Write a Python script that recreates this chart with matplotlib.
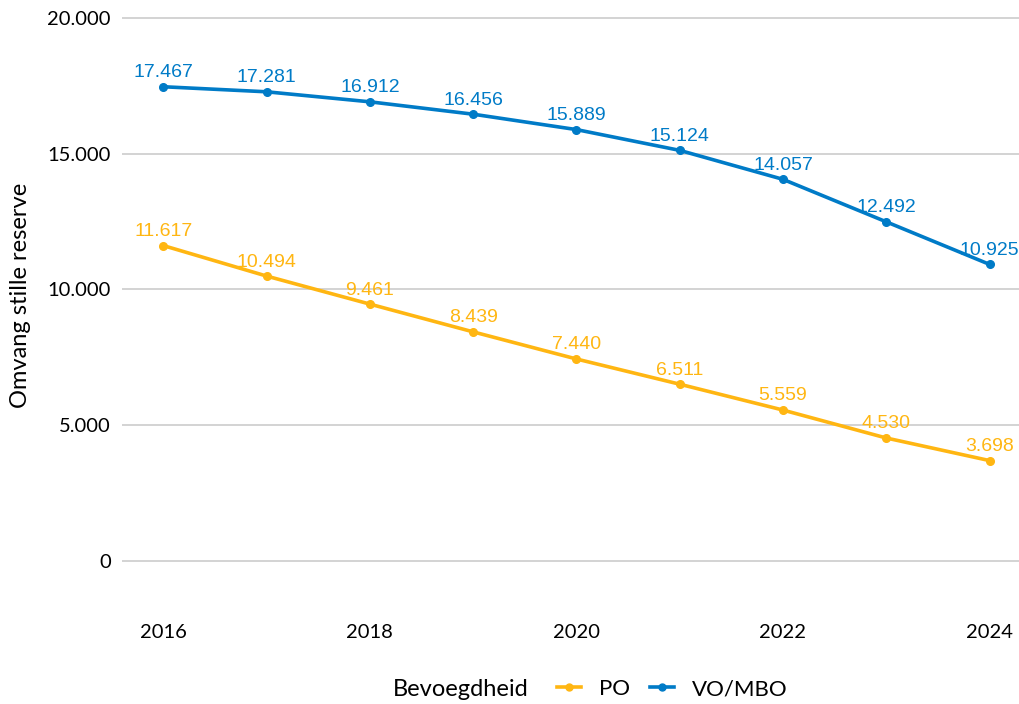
import matplotlib
matplotlib.use('Agg')
from matplotlib import pyplot as plt
from matplotlib.ticker import FuncFormatter
from matplotlib.lines import Line2D

years = [2016, 2017, 2018, 2019, 2020, 2021, 2022, 2023, 2024]
po = [11617, 10494, 9461, 8439, 7440, 6511, 5559, 4530, 3698]
vo_mbo = [17467, 17281, 16912, 16456, 15889, 15124, 14057, 12492, 10925]
series_names = ['PO', 'VO/MBO']
y_ticks = [0, 5000, 10000, 15000, 20000]
x_ticks = [2016, 2018, 2020, 2022, 2024]

col_po = '#FFB612'
col_vo = '#007BC7'
tick_font = 'Lato'
label_font = 'Liberation Sans'


def dotted(v, pos=None):
    return '{:,}'.format(int(v)).replace(',', '.')


fig = plt.figure(figsize=(10.2, 7.04), dpi=100)
ax = fig.add_axes([0.1196, 0.1723, 0.891, 0.8176])

for vals, col in [(po, col_po), (vo_mbo, col_vo)]:
    ax.plot(years, vals, color=col, lw=2.6, marker='o', ms=5.5, zorder=3)
    for x, v in zip(years, vals):
        ax.annotate(dotted(v), (x, v), xytext=(0, 4), textcoords='offset points',
                    ha='center', va='bottom', color=col, fontsize=14,
                    family=label_font, zorder=4)

ax.set_xlim(2015.6, 2024.4)
ax.set_ylim(-800, 20400)
ax.set_xticks(x_ticks)
ax.set_yticks(y_ticks)
ax.yaxis.set_major_formatter(FuncFormatter(dotted))
ax.grid(axis='y', color='#cccccc', lw=1.2)
ax.grid(axis='x', visible=False)
ax.set_axisbelow(True)
for s in ax.spines.values():
    s.set_visible(False)
ax.tick_params(length=0, labelsize=14.5, pad=8)
ax.tick_params(axis='x', pad=30)
for t in ax.get_xticklabels() + ax.get_yticklabels():
    t.set_family(tick_font)
ax.set_ylabel('Omvang stille reserve', fontsize=17, family=tick_font, labelpad=12)

fig.text(0.385, 0.021, 'Bevoegdheid', fontsize=17, family=tick_font, va='center')
handles = [Line2D([], [], color=col_po, lw=2.6, marker='o', ms=5),
           Line2D([], [], color=col_vo, lw=2.6, marker='o', ms=5)]
fig.legend(handles, series_names, loc='center left', bbox_to_anchor=(0.535, 0.021),
           ncol=2, frameon=False, prop={'family': tick_font, 'size': 16},
           handlelength=1.1, handletextpad=0.8, columnspacing=0.9, borderpad=0)

fig.savefig('out.png', dpi=100)
